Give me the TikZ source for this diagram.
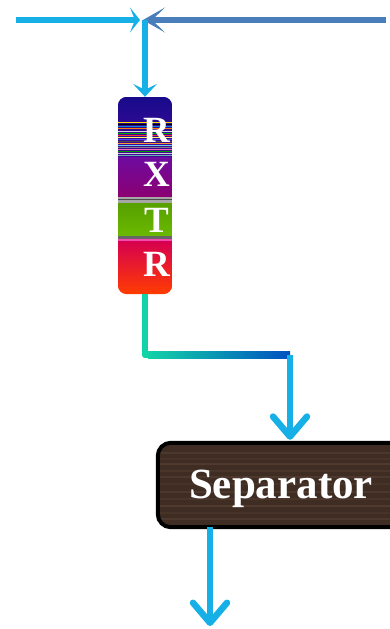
\documentclass[tikz,border=0pt]{standalone}
\usepackage{fontspec}
\setmainfont{Liberation Serif}
\usetikzlibrary{arrows.meta}
\definecolor{cyanA}{HTML}{16B0E6}
\definecolor{steelA}{HTML}{4A7EBB}
\definecolor{tealA}{HTML}{12D2A8}
\definecolor{cyanB}{HTML}{22D4E0}
\definecolor{blueB}{HTML}{0050C0}
\definecolor{wood}{HTML}{3F2D23}
\definecolor{woodL}{HTML}{5A4335}
\tikzset{
  feed/.style={line width=6.5pt},
  barbtip/.style={-{Straight Barb[length=20pt,width=34pt,line cap=round,line join=round]}},
  label/.style={text=white,font=\bfseries\fontsize{37}{37}\selectfont,inner sep=0pt},
}
\begin{document}
\begin{tikzpicture}[x=1pt,y=-1pt]
\useasboundingbox (0,0) rectangle (390,629);
% coordinates
\coordinate (L) at (16,20);
\coordinate (Rt) at (386,20);
\coordinate (J) at (145,20);
\coordinate (turn) at (290,355);
% RXTR column
\node[minimum width=54pt,minimum height=197pt,inner sep=0pt] (rxtr) at (145,195.5) {};
\begin{scope}
\clip[rounded corners=9pt] (rxtr.north west) rectangle (rxtr.south east);
\shade[top color={rgb,255:red,24;green,10;blue,140},bottom color={rgb,255:red,70;green,10;blue,150}] (118,97) rectangle (172,158);
\shade[top color={rgb,255:red,110;green,10;blue,160},bottom color={rgb,255:red,140;green,0;blue,112}] (118,157) rectangle (172,198);
\fill[gray!70] (118,197) rectangle (172,204);
\fill[black!70] (118,199) rectangle (172,200);
\shade[top color={rgb,255:red,86;green,160;blue,0},bottom color={rgb,255:red,108;green,186;blue,0}] (118,203) rectangle (172,237);
\fill[black!60] (118,236) rectangle (172,239);
\fill[magenta!70] (118,239) rectangle (172,241);
\shade[top color={rgb,255:red,214;green,0;blue,80},middle color={rgb,255:red,232;green,0;blue,40},bottom color={rgb,255:red,255;green,60;blue,0}] (118,241) rectangle (172,294);
% stripes
\foreach \yy/\cc in {122/yellow!80!orange,124/black,126/cyan!70!blue,128/orange,131/white!70!gray,133/green!70!black,135/red!80,137/yellow!60,139/blue!70,141/black!70,143/orange!80,145/cyan!60,147/gray,149/magenta!60,151/green!60!black,153/white!60!gray,155/teal!60}
  \fill[\cc] (118,\yy) rectangle (172,\yy+1.2);
\end{scope}
\node[label] at (157,130) {R};
\node[label] at (157,174) {X};
\node[label] at (157,220) {T};
\node[label] at (157,264) {R};
% separator
\node[minimum width=246pt,minimum height=84pt,inner sep=0pt] (sep) at (281,485) {};
\begin{scope}
\clip[rounded corners=13pt] (sep.north west) rectangle (sep.south east);
\fill[wood] (sep.north west) rectangle (sep.south east);
\foreach \yy/\op in {452/0.5,458/0.3,463/0.6,470/0.4,476/0.5,483/0.3,491/0.5,498/0.4,505/0.6,512/0.3,518/0.5}
  \fill[woodL,opacity=\op] (158,\yy) rectangle (404,\yy+2);
\end{scope}
\draw[line width=4pt,rounded corners=13pt] (sep.north west) rectangle (sep.south east);
\node[text=white,font=\bfseries\fontsize{43}{43}\selectfont,inner sep=0pt] at (281,489) {Separator};
% top feeds
\draw[feed,steelA,-{Stealth[length=22pt,width=25pt,inset=13pt]},shorten >=-2pt] (Rt) -- (J);
\draw[feed,cyanA,-{Stealth[length=10pt,width=25pt,inset=5pt]},shorten >=5pt] (L) -- (J);
\draw[feed,cyanA,-{Stealth[length=13pt,width=24pt,inset=6pt]}] (J) -- (rxtr.north);
% product pipe
\draw[feed,tealA,line join=round] (rxtr.south) |- (turn);
\shade[left color=tealA,middle color=cyanB,right color=blueB] (148,351.75) rectangle (290,358.25);
\draw[feed,cyanA,barbtip,shorten >=3pt] (turn) -- (sep.north -| turn);
% outlet
\coordinate (out) at (210,626);
\draw[feed,cyanA,barbtip] (sep.south -| out) -- (out);
\end{tikzpicture}
\end{document}
